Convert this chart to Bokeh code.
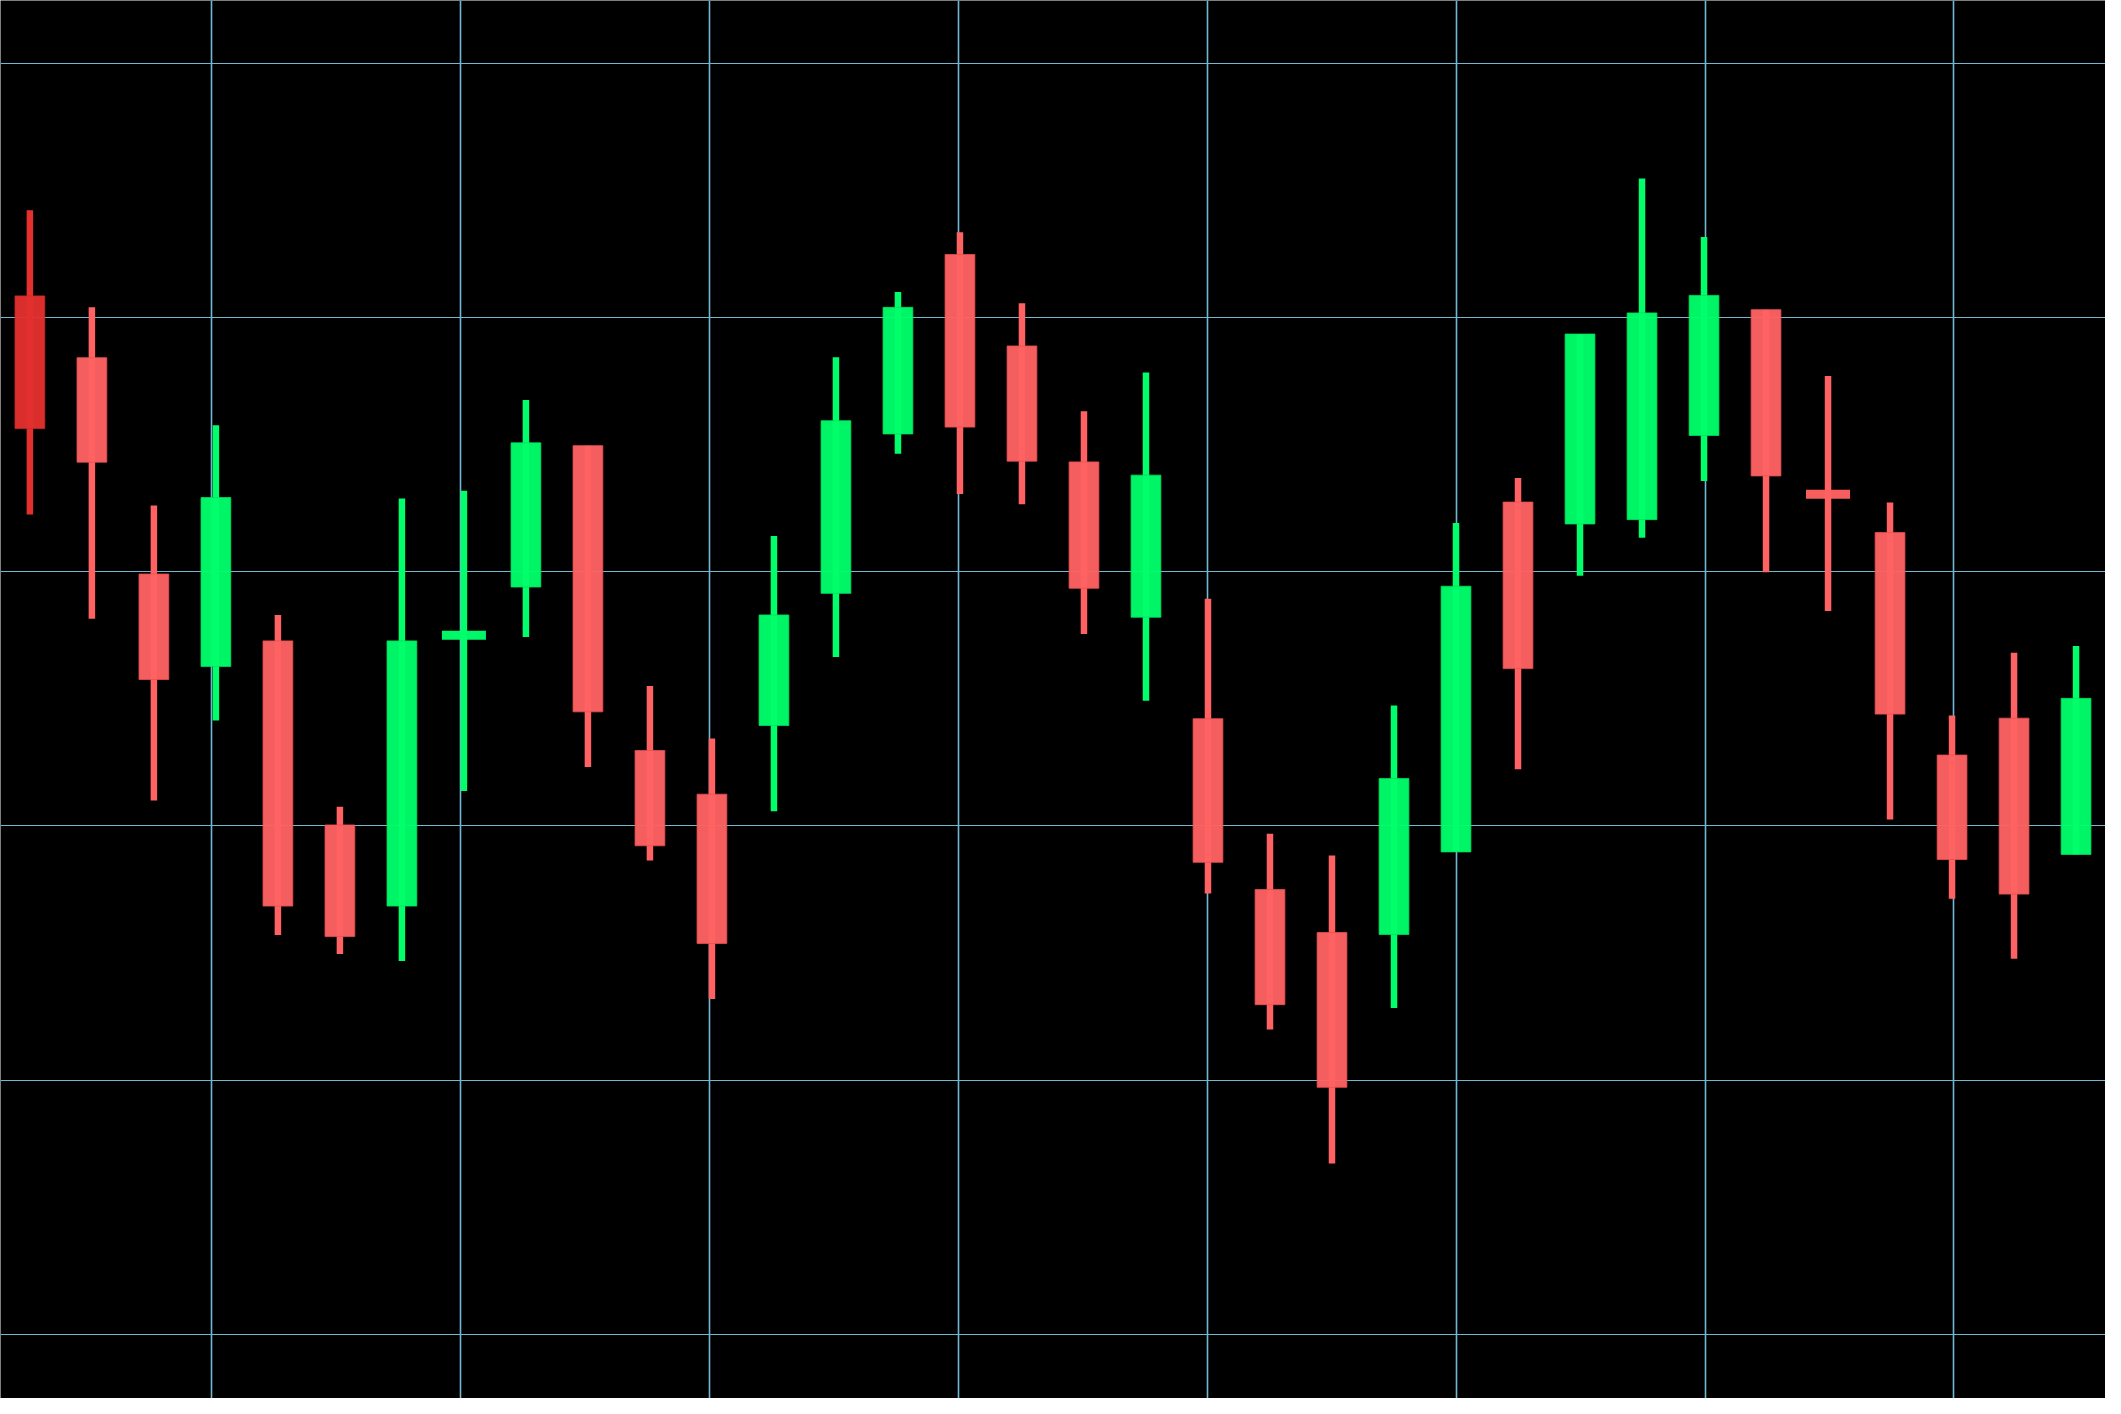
from bokeh.plotting import figure
from bokeh.models import ColumnDataSource, Range1d, FixedTicker
from bokeh.embed import file_html
from bokeh.resources import INLINE

# ---- data ----
open_ = [140.85, 138.42, 129.91, 126.27, 127.28, 120.04, 116.85, 127.45, 129.40, 134.96,
         122.97, 121.25, 123.95, 129.15, 135.42, 142.48, 138.88, 134.32, 128.21, 124.22,
         117.50, 115.81, 115.73, 118.98, 132.74, 131.88, 132.05, 135.36, 140.31, 133.10,
         131.54, 122.79, 124.24, 118.88]
close = [135.63, 134.31, 125.76, 132.92, 116.85, 115.65, 127.28, 127.55, 135.07, 124.49,
         119.22, 115.38, 128.30, 135.94, 140.40, 135.69, 134.35, 129.35, 133.80, 118.57,
         112.97, 109.72, 121.87, 129.43, 126.19, 139.35, 140.18, 140.87, 133.77, 133.00,
         124.40, 118.68, 117.32, 125.02]
high = [144.22, 140.40, 132.61, 135.76, 128.30, 120.76, 132.88, 133.19, 136.76, 134.96,
        125.51, 123.44, 131.41, 138.44, 141.00, 143.35, 140.56, 136.31, 137.84, 128.94,
        119.69, 118.84, 124.74, 131.92, 133.69, 139.35, 145.47, 143.17, 140.31, 137.70,
        132.72, 124.35, 126.81, 127.08]
low = [132.25, 128.15, 121.00, 124.15, 115.71, 114.96, 114.69, 121.38, 127.43, 122.32,
       118.64, 113.19, 120.58, 126.65, 134.64, 133.06, 132.66, 127.55, 124.93, 117.34,
       111.99, 106.72, 112.84, 118.98, 122.23, 129.84, 131.34, 133.57, 129.98, 128.46,
       120.25, 117.14, 114.78, 118.88]
highlighted = [0]          # the first candle is drawn in a darker red
x_grid_ticks = [2.93, 6.94, 10.96, 14.97, 18.99, 23.0, 27.02, 31.03]
y_grid_ticks = [100, 110, 120, 130, 140, 150]

# ---- styles ----
UP = "#00FF6A"
DOWN = "#FF6262"
HILITE = "#E3302F"
GRID = "#72B8D4"

n = len(open_)
idx = list(range(n))
colors, edges = [], []
for i in idx:
    if i in highlighted:
        c, e = HILITE, "#C82828"
    elif close[i] >= open_[i]:
        c, e = UP, "#00E05C"
    else:
        c, e = DOWN, "#E85050"
    colors.append(c)
    edges.append(e)

is_doji = [abs(close[i] - open_[i]) < 0.3 for i in idx]
body_idx = [i for i in idx if not is_doji[i]]
doji_idx = [i for i in idx if is_doji[i]]

src_all = ColumnDataSource(dict(x=idx, high=high, low=low, color=colors))
src_body = ColumnDataSource(dict(
    x=body_idx,
    top=[max(open_[i], close[i]) for i in body_idx],
    bottom=[min(open_[i], close[i]) for i in body_idx],
    color=[colors[i] for i in body_idx],
    edge=[edges[i] for i in body_idx],
))
src_doji = ColumnDataSource(dict(
    x=doji_idx,
    y=[(open_[i] + close[i]) / 2 for i in doji_idx],
    color=[colors[i] for i in doji_idx],
))

p = figure(width=2105, height=1398, output_backend="svg", toolbar_location=None,
           x_range=Range1d(-0.474, 33.475), y_range=Range1d(97.48, 152.47),
           min_border=0, min_border_left=0, min_border_right=0,
           min_border_top=0, min_border_bottom=0)
p.background_fill_color = "black"
p.border_fill_color = "black"
p.outline_line_color = None
p.xaxis.visible = False
p.yaxis.visible = False
p.xgrid.ticker = FixedTicker(ticks=x_grid_ticks)
p.ygrid.ticker = FixedTicker(ticks=y_grid_ticks)
p.xgrid.grid_line_color = GRID
p.ygrid.grid_line_color = GRID
p.xgrid.grid_line_width = 1.6
p.ygrid.grid_line_width = 1.2

p.segment(x0="x", y0="low", x1="x", y1="high", source=src_all,
          line_color="color", line_width=6.5, line_cap="butt", line_alpha=1.0)
p.vbar(x="x", top="top", bottom="bottom", width=0.48, source=src_body,
       fill_color="color", fill_alpha=0.96, line_color="edge", line_width=1, line_alpha=0.8)
p.rect(x="x", y="y", width=0.71, height=9, height_units="screen", source=src_doji,
       fill_color="color", fill_alpha=0.97, line_color=None)

open("out.html", "w").write(file_html(p, INLINE))
